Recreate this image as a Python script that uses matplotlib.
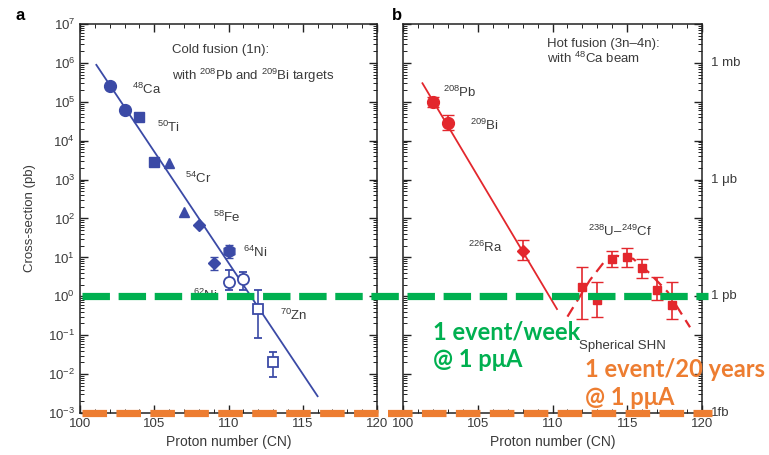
import numpy as np
import matplotlib
matplotlib.use("Agg")
import matplotlib.pyplot as plt
import matplotlib.transforms as mtransforms
from matplotlib.lines import Line2D
from matplotlib.ticker import LogLocator, MultipleLocator, NullFormatter

plt.rcParams['font.family'] = ['Liberation Sans', 'DejaVu Sans']
plt.rcParams['mathtext.fontset'] = 'custom'
plt.rcParams['mathtext.rm'] = 'Liberation Sans'
plt.rcParams['mathtext.it'] = 'Liberation Sans:italic'
plt.rcParams['mathtext.bf'] = 'Liberation Sans:bold'

# cold fusion data (left panel)
ca_z = [102, 103]
ca_s = [2.6e5, 6e4]
ti_z = [104, 105]
ti_s = [4e4, 2.8e3]
cr_z = [106, 107]
cr_s = [2.7e3, 150]
fe_z = [108, 109]
fe_s = [67, 7.2]
fe_lo = [67, 4.8]
fe_hi = [67, 10]
ni64_z = [110]
ni64_s = [15]
ni64_lo = [9.5]
ni64_hi = [21]
ni62_z = [110, 111]
ni62_s = [2.4, 2.8]
ni62_lo = [1.45, 1.45]
ni62_hi = [4.8, 4.2]
zn_z = [112, 113]
zn_s = [0.47, 0.02]
zn_lo = [0.085, 0.0085]
zn_hi = [1.45, 0.037]
cold_fit_z = [101.1, 116]
cold_fit_s = [8.9e5, 2.7e-3]

# hot fusion data (right panel)
pb_z = [102, 103]
pb_s = [1e5, 2.9e4]
pb_lo = [7.4e4, 1.9e4]
pb_hi = [1.35e5, 4.5e4]
ra_z = [108]
ra_s = [15]
ra_lo = [8.5]
ra_hi = [28]
hot_fit_z = [101.3, 110.3]
hot_fit_s = [3e5, 0.47]
shn_z = [112, 113, 114, 115, 116, 117, 118]
shn_s = [1.7, 0.8, 9.2, 10, 5.4, 1.45, 0.6]
shn_lo = [0.26, 0.3, 5.6, 5.6, 3.0, 0.8, 0.26]
shn_hi = [5.6, 2.3, 14.5, 17, 9.2, 3.2, 2.3]
shn_curve_z = [111, 112.5, 113.4, 114.3, 115.4, 116.5, 117.7, 119.2]
shn_curve_s = [0.3, 2.6, 7.2, 11, 9.2, 3.9, 1.3, 0.16]

unit_vals = [1e6, 1e3, 1e0, 1e-3]
unit_labels = ['1 mb', '1 \u03bcb', '1 pb', '1fb']

blue = '#3b4aa6'
red = '#e3272d'
green = '#00b050'
orange = '#ed7d31'
txt = '#3a3a3a'

W, H = 769, 455
fig = plt.figure(figsize=(W / 100, H / 100), dpi=100)
ax1 = fig.add_axes([80 / W, 1 - 413 / H, 297 / W, 389 / H])
ax2 = fig.add_axes([403 / W, 1 - 413 / H, 299 / W, 389 / H])


def err(s, lo, hi):
    s = np.array(s)
    return [s - np.array(lo), np.array(hi) - s]


for ax in (ax1, ax2):
    ax.set_yscale('log')
    ax.set_xlim(100, 120)
    ax.set_ylim(1e-3, 1e7)
    ax.xaxis.set_major_locator(MultipleLocator(5))
    ax.xaxis.set_minor_locator(MultipleLocator(1))
    ax.yaxis.set_major_locator(LogLocator(base=10, numticks=20))
    ax.yaxis.set_minor_locator(LogLocator(base=10, subs=np.arange(2, 10), numticks=20))
    ax.yaxis.set_minor_formatter(NullFormatter())
    ax.tick_params(which='both', direction='in', top=True, right=True,
                   colors='#222222', labelcolor=txt, labelsize=9.5)
    ax.tick_params(which='major', length=6, width=1)
    ax.tick_params(which='minor', length=3, width=0.7)
    for sp in ax.spines.values():
        sp.set_color('#222222')
        sp.set_linewidth(1.1)
    ax.set_xlabel('Proton number (CN)', fontsize=10, color=txt, labelpad=4)

ax2.tick_params(labelleft=False)
ax1.set_ylabel('Cross-section (pb)', fontsize=9.5, color=txt, labelpad=9)

# left panel
ax1.plot(cold_fit_z, cold_fit_s, color=blue, lw=1.3)
ax1.plot(ca_z, ca_s, 'o', color=blue, ms=8.5)
ax1.plot(ti_z, ti_s, 's', color=blue, ms=7)
ax1.plot(cr_z, cr_s, '^', color=blue, ms=7.5)
ax1.errorbar(fe_z, fe_s, yerr=err(fe_s, fe_lo, fe_hi), fmt='D', color=blue, ms=6,
             capsize=3, elinewidth=1.2)
ax1.errorbar(ni64_z, ni64_s, yerr=err(ni64_s, ni64_lo, ni64_hi), fmt='h', color=blue,
             ms=9, capsize=3, elinewidth=1.2)
ax1.errorbar(ni62_z, ni62_s, yerr=err(ni62_s, ni62_lo, ni62_hi), fmt='o', color=blue,
             mfc='white', mew=1.3, ms=8, capsize=3, elinewidth=1.2)
ax1.errorbar(zn_z, zn_s, yerr=err(zn_s, zn_lo, zn_hi), fmt='s', color=blue,
             mfc='white', mew=1.3, ms=7, capsize=3, elinewidth=1.2)

lbl = dict(fontsize=9.5, color=txt, va='baseline')
ax1.text(103.5, 10**5.2, r'$^{48}$Ca', **lbl)
ax1.text(105.2, 10**4.22, r'$^{50}$Ti', **lbl)
ax1.text(107.1, 10**2.91, r'$^{54}$Cr', **lbl)
ax1.text(108.96, 10**1.91, r'$^{58}$Fe', **lbl)
ax1.text(111.0, 10**1.01, r'$^{64}$Ni', **lbl)
ax1.text(107.6, 10**-0.095, r'$^{62}$Ni', **lbl)
ax1.text(113.5, 10**-0.61, r'$^{70}$Zn', **lbl)
ax1.text(106.2, 10**6.25, 'Cold fusion (1n):', **lbl)
ax1.text(106.2, 10**5.56, r'with $^{208}$Pb and $^{209}$Bi targets', **lbl)

# right panel
ax2.plot(hot_fit_z, hot_fit_s, color=red, lw=1.3)
ax2.plot(shn_curve_z, shn_curve_s, color=red, lw=1.6, ls=(0, (5, 3)))
ax2.errorbar(pb_z, pb_s, yerr=err(pb_s, pb_lo, pb_hi), fmt='o', color=red, ms=8.5,
             capsize=4, elinewidth=1.2)
ax2.errorbar(ra_z, ra_s, yerr=err(ra_s, ra_lo, ra_hi), fmt='D', color=red, ms=6,
             capsize=4, elinewidth=1.2)
ax2.errorbar(shn_z, shn_s, yerr=err(shn_s, shn_lo, shn_hi), fmt='s', color=red, ms=6,
             capsize=4, elinewidth=1.2)

ax2.text(109.6, 10**6.41, 'Hot fusion (3n\u20134n):', **lbl)
ax2.text(109.6, 10**6.0, r'with $^{48}$Ca beam', **lbl)
ax2.text(102.7, 10**5.12, r'$^{208}$Pb', **lbl)
ax2.text(104.5, 10**4.27, r'$^{209}$Bi', **lbl)
ax2.text(104.35, 10**1.14, r'$^{226}$Ra', **lbl)
ax2.text(112.4, 10**1.55, '$^{238}$U\u2013$^{249}$Cf', **lbl)
ax2.text(111.8, 10**-1.35, 'Spherical SHN', **lbl)

unit_tr = mtransforms.blended_transform_factory(ax2.transAxes, ax2.transData)
for v, s in zip(unit_vals, unit_labels):
    ax2.text(1.03, v, s, transform=unit_tr, fontsize=9.5, color=txt, va='center', ha='left')

fig.text(15 / W, 1 - 15 / H, 'a', fontsize=12, fontweight='bold', va='center', ha='left')
fig.text(392 / W, 1 - 15 / H, 'b', fontsize=12, fontweight='bold', va='center', ha='left')

# rate lines drawn across both panels
lt = mtransforms.blended_transform_factory(fig.transFigure, ax1.transData)
fig.add_artist(Line2D([82 / W, 708 / W], [1.0, 1.0], transform=lt, color=green,
                      lw=5.2, dashes=(3.8, 1.2), solid_capstyle='butt', zorder=10))
fig.add_artist(Line2D([82 / W, 712 / W], [1e-3, 1e-3], transform=lt, color=orange,
                      lw=5.2, dashes=(3.4, 1.3), solid_capstyle='butt', zorder=10))

big = dict(fontsize=17, fontweight='bold', va='baseline', ha='left', family='Lato')
fig.text(433 / W, 1 - 339 / H, '1 event/week', color=green, **big)
fig.text(433 / W, 1 - 367 / H, '@ 1 p\u03bcA', color=green, **big)
fig.text(585 / W, 1 - 377 / H, '1 event/20 years', color=orange, **big)
fig.text(585 / W, 1 - 405 / H, '@ 1 p\u03bcA', color=orange, **big)

fig.savefig('out.png', dpi=100)
